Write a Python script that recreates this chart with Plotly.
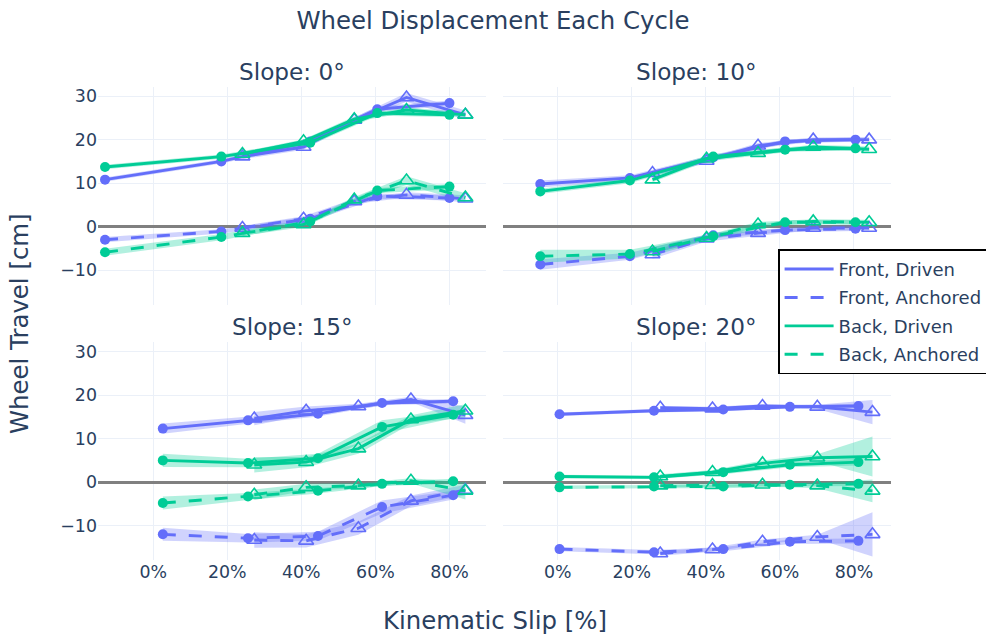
import plotly.graph_objects as go
from plotly.subplots import make_subplots

# Slope of the test bed for each panel
SLOPES = [0, 10, 15, 20]

# Kinematic slip [%] of the two runs per slope (run A: filled circles, run B: open triangles)
SLIP_A = [
    [-13.0, 18.4, 42.4, 60.5, 80.0],
    [-4.7, 19.5, 42.0, 61.4, 80.4],
    [2.6, 25.6, 44.5, 61.8, 81.0],
    [0.5, 26.0, 44.7, 62.7, 81.2],
]
SLIP_B = [
    [24.1, 40.6, 54.3, 68.4, 84.3],
    [25.6, 40.2, 54.1, 69.0, 84.1],
    [27.3, 41.3, 55.4, 69.6, 84.3],
    [27.7, 41.8, 55.3, 70.1, 85.0],
]

# Mean wheel travel per cycle [cm]
FRONT_DRIVEN_A = [[10.8, 15.0, 19.6, 27.0, 28.4], [9.8, 11.2, 15.9, 19.6, 20.0],
                  [12.3, 14.2, 15.7, 18.2, 18.6], [15.6, 16.4, 16.7, 17.3, 17.5]]
FRONT_DRIVEN_B = [[16.1, 18.3, 24.5, 29.7, 25.7], [12.3, 15.1, 18.6, 20.0, 20.0],
                  [14.6, 16.4, 17.4, 19.0, 15.4], [17.1, 16.9, 17.5, 17.3, 16.1]]
FRONT_ANCHORED_A = [[-3.0, -1.1, 1.8, 7.0, 6.6], [-8.7, -6.8, -2.0, -0.8, -0.5],
                    [-12.0, -12.9, -12.4, -5.7, -3.0], [-15.4, -16.1, -15.4, -13.7, -13.5]]
FRONT_ANCHORED_B = [[-0.3, 1.8, 5.8, 7.3, 6.4], [-6.4, -2.8, -1.5, -0.3, -0.3],
                    [-13.3, -13.5, -10.6, -4.3, -1.8], [-16.4, -15.5, -13.7, -12.6, -12.0]]
BACK_DRIVEN_A = [[13.7, 16.1, 19.3, 26.1, 25.7], [8.1, 10.6, 16.1, 17.7, 18.0],
                 [5.0, 4.4, 5.5, 12.7, 15.5], [1.3, 1.1, 2.3, 4.0, 4.6]]
BACK_DRIVEN_B = [[16.7, 19.6, 24.7, 26.8, 25.7], [10.8, 15.6, 16.9, 18.3, 17.8],
                 [4.0, 4.6, 7.7, 14.4, 16.4], [1.3, 2.3, 4.3, 5.6, 5.9]]
BACK_ANCHORED_A = [[-5.9, -2.4, 1.2, 8.3, 9.2], [-6.8, -6.3, -2.2, 1.0, 1.0],
                   [-4.8, -3.3, -2.0, -0.4, 0.2], [-1.2, -1.0, -1.0, -0.6, -0.4]]
BACK_ANCHORED_B = [[-1.5, 0.5, 6.2, 10.6, 6.7], [-5.7, -2.6, 0.5, 1.2, 1.0],
                   [-2.9, -1.2, -0.8, 0.3, -2.0], [-0.8, -0.7, -0.6, -0.8, -2.0]]

# Spread (one standard deviation) of the wheel travel [cm]
FRONT_DRIVEN_A_SD = [[0.5, 0.5, 0.6, 0.6, 0.6], [0.8, 0.6, 0.6, 0.5, 0.5],
                     [1.2, 0.8, 0.6, 0.5, 0.5], [0.4, 0.4, 0.4, 0.4, 0.5]]
FRONT_DRIVEN_B_SD = [[0.6, 0.6, 0.6, 1.0, 1.0], [0.6, 0.6, 0.6, 0.5, 0.6],
                     [1.5, 1.0, 0.6, 0.6, 2.0], [0.4, 0.4, 0.4, 0.5, 2.8]]
FRONT_ANCHORED_A_SD = [[0.6, 0.5, 0.6, 0.6, 0.6], [1.2, 0.8, 0.6, 0.5, 0.5],
                       [1.5, 1.0, 1.0, 1.5, 1.0], [0.5, 0.5, 0.5, 0.5, 0.6]]
FRONT_ANCHORED_B_SD = [[0.5, 0.6, 0.6, 0.6, 0.8], [1.0, 0.6, 0.6, 0.5, 0.6],
                       [1.8, 1.5, 1.5, 1.2, 1.2], [0.5, 0.5, 0.5, 0.5, 5.1]]
BACK_DRIVEN_A_SD = [[0.5, 0.5, 0.6, 0.6, 0.5], [0.6, 0.6, 0.6, 0.5, 0.5],
                    [1.5, 1.0, 1.0, 1.5, 0.8], [0.4, 0.4, 0.5, 0.6, 0.8]]
BACK_DRIVEN_B_SD = [[0.5, 0.5, 0.6, 0.6, 0.6], [0.6, 0.6, 0.6, 0.5, 0.6],
                    [1.8, 1.2, 1.2, 1.0, 1.5], [0.5, 0.5, 0.7, 0.8, 4.6]]
BACK_ANCHORED_A_SD = [[0.8, 0.7, 0.6, 0.6, 0.6], [1.5, 1.0, 0.6, 0.5, 0.5],
                      [1.5, 0.8, 0.6, 0.5, 0.6], [0.4, 0.4, 0.4, 0.4, 0.5]]
BACK_ANCHORED_B_SD = [[0.6, 0.6, 0.6, 1.0, 1.0], [1.0, 0.6, 0.6, 0.5, 0.6],
                      [1.2, 0.8, 0.6, 0.6, 2.0], [0.4, 0.4, 0.4, 0.6, 2.6]]

BLUE = "#636EFA"
GREEN = "#00CC96"
BLUE_FILL = "rgba(99,110,250,0.3)"
GREEN_FILL = "rgba(0,204,150,0.3)"
FONT = "Verdana, DejaVu Sans, sans-serif"
DASH = "13px,13px"

SERIES = [
    ("Front, Driven", BLUE, BLUE_FILL, "solid",
     FRONT_DRIVEN_A, FRONT_DRIVEN_A_SD, FRONT_DRIVEN_B, FRONT_DRIVEN_B_SD),
    ("Front, Anchored", BLUE, BLUE_FILL, DASH,
     FRONT_ANCHORED_A, FRONT_ANCHORED_A_SD, FRONT_ANCHORED_B, FRONT_ANCHORED_B_SD),
    ("Back, Driven", GREEN, GREEN_FILL, "solid",
     BACK_DRIVEN_A, BACK_DRIVEN_A_SD, BACK_DRIVEN_B, BACK_DRIVEN_B_SD),
    ("Back, Anchored", GREEN, GREEN_FILL, DASH,
     BACK_ANCHORED_A, BACK_ANCHORED_A_SD, BACK_ANCHORED_B, BACK_ANCHORED_B_SD),
]

fig = make_subplots(
    rows=2, cols=2, shared_xaxes=True, shared_yaxes=True,
    subplot_titles=[f"Slope: {s}°" for s in SLOPES],
    horizontal_spacing=0.0202, vertical_spacing=0.0803,
)


def band(xs, mean, sd, fill):
    upper = [m + s for m, s in zip(mean, sd)]
    lower = [m - s for m, s in zip(mean, sd)]
    return go.Scatter(x=list(xs) + list(xs)[::-1], y=upper + lower[::-1],
                      fill="toself", fillcolor=fill, line=dict(width=0),
                      mode="lines", hoverinfo="skip", showlegend=False)


for k, slope in enumerate(SLOPES):
    row, col = k // 2 + 1, k % 2 + 1
    # shaded spread first so the lines sit on top
    for name, color, fill, dash, ya, sda, yb, sdb in SERIES:
        fig.add_trace(band(SLIP_A[k], ya[k], sda[k], fill), row=row, col=col)
        fig.add_trace(band(SLIP_B[k], yb[k], sdb[k], fill), row=row, col=col)
    for name, color, fill, dash, ya, sda, yb, sdb in SERIES:
        fig.add_trace(go.Scatter(
            x=SLIP_A[k], y=ya[k], mode="lines+markers", name=name, showlegend=False,
            line=dict(color=color, width=2.9, dash=dash),
            marker=dict(symbol="circle", size=10, color=color)), row=row, col=col)
        fig.add_trace(go.Scatter(
            x=SLIP_B[k], y=yb[k], mode="lines+markers", name=name, showlegend=False,
            line=dict(color=color, width=2.9, dash=dash),
            marker=dict(symbol="triangle-up-open", size=13, color=color,
                        line=dict(width=1.6, color=color))), row=row, col=col)

# legend keys (line style only), one group each for even spacing
for name, color, fill, dash, *_ in SERIES:
    fig.add_trace(go.Scatter(x=[None], y=[None], mode="lines", name=name,
                             legendgroup=name,
                             line=dict(color=color, width=2.9, dash=dash)), row=1, col=1)

fig.update_xaxes(range=[-14.9, 90.0], dtick=20, ticksuffix="%", gridcolor="#EBF0F8",
                 gridwidth=1.4, tickfont=dict(size=17.4), zeroline=False,
                 showline=False)
fig.update_yaxes(range=[-17.9, 32.1], dtick=10, gridcolor="#EBF0F8", gridwidth=1.4,
                 tickfont=dict(size=17.4), zeroline=True, zerolinecolor="#808080",
                 zerolinewidth=2.9)

for ann in fig.layout.annotations:
    ann.font = dict(size=23.2, family=FONT, color="#2a3f5f")

fig.add_annotation(text="Kinematic Slip [%]", xref="paper", yref="paper",
                   x=0.5, y=-0.127, xanchor="center", yanchor="middle",
                   showarrow=False, font=dict(size=24.4, family=FONT, color="#2a3f5f"))
fig.add_annotation(text="Wheel Travel [cm]", xref="paper", yref="paper",
                   x=-0.099, y=0.5, xanchor="center", yanchor="middle", textangle=-90,
                   showarrow=False, font=dict(size=24.4, family=FONT, color="#2a3f5f"))

fig.update_layout(
    template="plotly_white",
    width=986, height=635,
    margin=dict(l=98, r=95, t=87, b=75, autoexpand=False),
    font=dict(family=FONT, color="#2a3f5f"),
    title=dict(text="Wheel Displacement Each Cycle", x=0.5, xanchor="center",
               y=0.968, yanchor="middle", font=dict(size=24.4)),
    legend=dict(x=0.8575, y=0.657, xanchor="left", yanchor="top",
                bgcolor="white", bordercolor="black", borderwidth=1.6,
                font=dict(size=18), itemwidth=49, tracegroupgap=2,
                traceorder="grouped"),
)

fig.write_html("out.html")
